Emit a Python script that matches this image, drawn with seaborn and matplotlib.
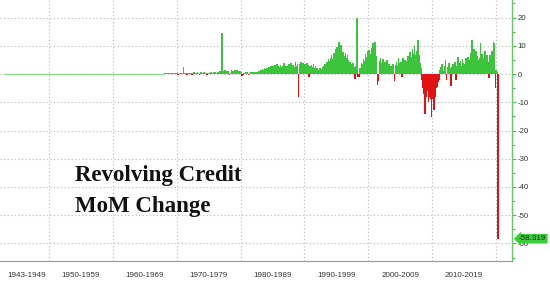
import numpy as np
import pandas as pd
import matplotlib
matplotlib.use("Agg")
import matplotlib.pyplot as plt
import seaborn as sns
from matplotlib.ticker import MultipleLocator

sns.set_theme(style="white")
plt.rcParams['font.family'] = ['Liberation Sans', 'DejaVu Sans']
plt.rcParams['axes.unicode_minus'] = False

# ---------------- data (MoM change, $bn) ----------------
series_start = 1943
data_start = 1968          # bi-monthly readings start here
# bi-monthly readings (6 per year)
chg_1968_1969 = [0.3, 0.2, 0.4, 0.3, -0.1, 0.3, 0.4, 0.2, 0.3, 0.5, 0.2, 0.3]
chg_1970s = [0.3, -0.2, 0.4, 0.2, 0.3, 0.5,
             2.4, 0.3, 0.5, -0.2, 0.4, 0.3,
             0.5, 0.3, -0.3, 0.4, 0.6, 0.4,
             0.5, 0.7, 0.4, -0.2, 0.6, 0.5,
             0.4, 0.6, 0.3, 0.5, -0.3, 0.4,
             0.3, 0.4, 0.6, 0.5, 0.7, 0.6,
             0.7, 0.5, 0.8, 0.6, 0.9, 1.0,
             14.4, 0.8, 1.0, 1.4, 0.9, 1.1,
             1.2, -0.3, 0.4, 1.3, 0.9, 1.1,
             1.3, 1.0, 1.4, 1.2, 0.8, 1.0]
chg_1980s = [0.5, -0.6, -0.4, 0.3, 0.8, 0.6,
             0.7, -0.2, 0.5, 0.8, 0.4, 0.6,
             0.5, 0.7, 0.3, 0.6, 0.8, 0.9,
             1.0, 1.3, 1.6, 1.4, 2.0, 1.8,
             2.2, 1.8, 2.6, 2.3, 2.9, 2.4,
             2.8, 2.5, 3.1, 2.7, 3.5, 2.9,
             2.6, 3.2, 2.4, 2.9, 3.8, 2.7,
             2.5, 3.0, 2.2, 3.4, 2.6, 3.9,
             2.9, 3.3, 2.6, 4.1, 3.0, 3.6,
             -8.3, 3.4, 4.4, 3.1, 3.9, 3.5]
chg_1990s = [3.6, 2.9, 3.8, 3.2, -1.0, 2.7,
             3.1, 2.4, 3.4, 2.0, 2.8, 2.2,
             1.5, 1.2, 2.0, 1.0, 1.8, 2.5,
             2.8, 3.6, 3.0, 4.4, 5.2, 4.6,
             5.8, 6.9, 5.4, 7.6, 6.5, 8.8,
             9.6, 7.2, 11.5, 8.4, 10.2, 6.8,
             7.9, 6.2, 7.4, 5.6, 6.8, 4.9,
             4.2, 3.4, 2.6, 3.8, 2.4, -1.9,
             2.8, 19.8, -1.2, -1.0, 2.2, 4.0,
             3.6, 5.4, 4.6, 7.2, 6.0, 8.1]
chg_2000s = [8.5, 7.0, 6.4, 9.2, 10.9, 8.0,
             11.5, 6.2, -3.9, -2.4, 4.5, 5.8,
             3.8, 5.2, 2.6, 4.1, 3.2, 4.8,
             2.4, 3.6, 1.8, 3.0, 2.6, 3.4,
             -2.5, 3.2, 4.4, 2.8, 5.6, 3.9,
             4.1, -1.0, 5.8, 3.7, 4.9, 3.3,
             4.6, 6.4, 5.2, 7.8, 6.0, 8.9,
             7.2, 9.8, 6.6, 8.0, 12.0, 6.9,
             4.0, 2.0, -2.0, -5.0, -7.0, -14.2,
             -8.0, -6.0, -10.0, -8.0, -9.0, -15.2]
chg_2010s = [-9.0, -12.8, -8.0, -5.0, -4.5, -3.0,
             -2.0, 1.5, 2.4, 3.4, 1.2, 3.0,
             4.8, -2.0, 2.6, 3.8, 2.0, -4.4,
             2.4, 3.6, 1.8, 4.2, -2.0, 3.0,
             6.0, 3.8, 4.6, 2.8, 5.2, 4.0,
             3.4, 5.6, 4.2, 6.1, 3.8, 5.0,
             7.4, 12.0, 6.2, 9.0, 5.4, 8.0,
             6.4, 4.8, 5.6, 10.9, 7.2, 4.4,
             5.8, 8.0, 3.6, 6.6, 4.2, -1.5,
             6.8, 4.6, 8.2, 11.5, 11.0, -5.0]
# monthly readings for 2020
chg_2020_monthly = [1.5, 0.8, -26.0, -58.319]
last_value = -58.319

decade_edges = [1943, 1950, 1960, 1970, 1980, 1990, 2000, 2010, 2020]
decade_labels = ["1943-1949", "1950-1959", "1960-1969", "1970-1979",
                 "1980-1989", "1990-1999", "2000-2009", "2010-2019"]
y_ticks = [20, 10, 0, -10, -20, -30, -40, -50, -60]
title_lines = ["Revolving Credit", "MoM Change"]

# ---------------- build frame ----------------
bimonthly = np.concatenate([chg_1968_1969, chg_1970s, chg_1980s,
                            chg_1990s, chg_2000s, chg_2010s])
t_bi = data_start + (np.arange(len(bimonthly)) + 0.5) / 6
t_m = 2020 + (np.arange(len(chg_2020_monthly)) + 0.5) / 12
df = pd.DataFrame({"t": np.concatenate([t_bi, t_m]),
                   "v": np.concatenate([bimonthly, chg_2020_monthly])})
df["sign"] = np.where(df["v"] >= 0, "up", "down")

GREEN = "#3cc43c"
RED = "#e31212"
GRID = "#b5b5b5"

W, H = 550, 281
fig = plt.figure(figsize=(W / 100, H / 100), dpi=100)
ax = fig.add_axes([0, 20 / H, 512 / W, 261 / H])

# flat zero line before the series has readings
ax.hlines(0, series_start, data_start, color="#8fd88f", lw=1.0, zorder=1)

sns.barplot(data=df, x="t", y="v", hue="sign",
            palette={"up": GREEN, "down": RED}, hue_order=["up", "down"],
            native_scale=True, width=3.2, dodge=False, errorbar=None,
            linewidth=0, edgecolor="none", saturation=1, legend=False,
            ax=ax, zorder=2)

ax.set_xlim(1942.33, 2022.5)
ax.set_ylim(-66.2, 26.2)
ax.set_xlabel("")
ax.set_ylabel("")

# spines
for s in ["top", "left"]:
    ax.spines[s].set_visible(False)
ax.spines["right"].set_color("#66c866")
ax.spines["right"].set_linewidth(1.0)
ax.spines["bottom"].set_color("#9a9a9a")
ax.spines["bottom"].set_linewidth(0.8)

# y axis on the right
ax.yaxis.tick_right()
ax.set_yticks(y_ticks)
ax.set_yticklabels([str(v) for v in y_ticks])
ax.yaxis.set_minor_locator(MultipleLocator(5))
ax.tick_params(axis="y", which="major", length=3, width=0.8, color="#55bb55",
               pad=1.2, labelsize=5.6, labelcolor="#333333", direction="out")
ax.tick_params(axis="y", which="minor", length=1.8, width=0.8, color="#55bb55",
               direction="out")

# x axis: decade separators and centered labels
ax.set_xticks(decade_edges[1:])
ax.set_xticklabels([""] * (len(decade_edges) - 1))
centers = [(a + b) / 2 for a, b in zip(decade_edges[:-1], decade_edges[1:])]
ax.set_xticks(centers, minor=True)
ax.set_xticklabels(decade_labels, minor=True)
ax.tick_params(axis="x", which="major", length=14.5, width=0.8,
               color="#8a8a8a", direction="out")
ax.tick_params(axis="x", which="minor", length=2.2, width=0.8,
               color="#8a8a8a", direction="out", pad=5.5,
               labelsize=5.8, labelcolor="#333333")

ax.grid(True, which="major", axis="both", linestyle=(0, (1, 2.2)),
        color=GRID, linewidth=0.8)
ax.set_axisbelow(True)

# last-value callout
ax.annotate(f"{last_value:.3f}", xy=(1, last_value),
            xycoords=ax.get_yaxis_transform(),
            xytext=(5, 0), textcoords="offset points",
            ha="left", va="center", fontsize=5.8, color="#0b2f0b",
            bbox=dict(boxstyle="larrow,pad=0.16", fc="#3ccc3c", ec="none"),
            annotation_clip=False, zorder=10)

# title block
for i, line in enumerate(title_lines):
    ax.text(75 / 512, 1 - (180.7 + 31 * i) / 261, line,
            transform=ax.transAxes, ha="left", va="baseline",
            fontsize=16.5, fontweight="bold",
            family=["Liberation Serif", "DejaVu Serif"], color="#111111")

fig.savefig("out.png", dpi=100, facecolor="white")
